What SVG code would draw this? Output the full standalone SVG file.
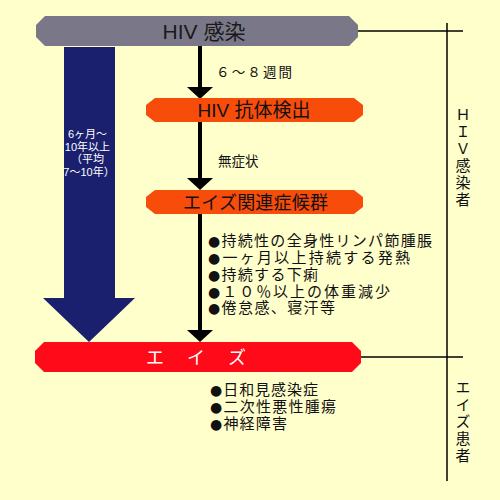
<svg xmlns="http://www.w3.org/2000/svg" width="500" height="500" viewBox="0 0 500 500">
<defs>
<style>
.jp{font-family:"Liberation Sans","Noto Sans CJK JP",sans-serif;}
.t{font-family:"Liberation Sans","Noto Sans CJK JP",sans-serif;fill:#111;}
.b{font-family:"DejaVu Sans",sans-serif;font-size:14px;}
.thin{stroke:#000;stroke-width:1.5;fill:none;}
.conn{stroke:#000;stroke-width:4;fill:none;marker-end:url(#ah);}
.orange{fill:#F84C0A;}
.vert{writing-mode:vertical-rl;text-orientation:upright;}
</style>
<marker id="ah" markerUnits="userSpaceOnUse" markerWidth="12" markerHeight="26" refX="0" refY="13" orient="auto" viewBox="0 0 12 26">
<path d="M0,0 L12,13 L0,26 z" fill="#000"/>
</marker>
</defs>
<rect width="500" height="500" fill="#FFFFCC"/>

<g id="duration-arrow">
<polygon points="64,47 115,47 115,298 135,298 89,342 43,298 64,298" fill="#1A206E"/>
<text class="t" font-size="11" text-anchor="middle" style="fill:#fff">
<tspan x="89" y="138">6ヶ月～</tspan>
<tspan x="89" y="151">10年以上</tspan>
<tspan x="89" y="163">（平均</tspan>
<tspan x="89" y="176">7～10年）</tspan>
</text>
</g>

<g id="connectors">
<line class="conn" x1="200" y1="46" x2="200" y2="87"/>
<line class="conn" x1="200" y1="122" x2="200" y2="178"/>
<line class="conn" x1="200" y1="214" x2="200" y2="330"/>
<polyline class="thin" points="358,31 463,31"/>
<polyline class="thin" points="361,357 463,357"/>
<polyline class="thin" points="447,23 447,481"/>
</g>

<g id="hiv-infection">
<polygon points="45,16 349,16 358,25 358,37 349,46 45,46 36,37 36,25" fill="#7A7888"/>
<text class="jp" x="204" y="39" font-size="21" text-anchor="middle" fill="#1a1a1a">HIV 感染</text>
</g>

<g id="label-weeks">
<text class="t" x="216" y="77" font-size="13.5" textLength="76" lengthAdjust="spacing">６～８週間</text>
</g>

<g id="antibody">
<polygon class="orange" points="155,98 354,98 363,105 363,115 354,122 155,122 146,115 146,105"/>
<text class="jp" x="254" y="117" font-size="19" text-anchor="middle" fill="#111">HIV 抗体検出</text>
</g>

<g id="label-asymptomatic">
<text class="t" x="218" y="166" font-size="13.5">無症状</text>
</g>

<g id="arc">
<polygon class="orange" points="155,190 354,190 363,197 363,207 354,214 155,214 146,207 146,197"/>
<text class="t" x="183" y="209" font-size="18" textLength="145" lengthAdjust="spacing" fill="#111">エイズ関連症候群</text>
</g>

<g id="arc-symptoms" class="t" font-size="15">
<text x="208" y="246" textLength="224" lengthAdjust="spacing"><tspan class="b">●</tspan>持続性の全身性リンパ節腫脹</text>
<text x="208" y="263" textLength="202" lengthAdjust="spacing"><tspan class="b">●</tspan>一ヶ月以上持続する発熱</text>
<text x="208" y="280" textLength="110" lengthAdjust="spacing"><tspan class="b">●</tspan>持続する下痢</text>
<text x="208" y="297" textLength="182" lengthAdjust="spacing"><tspan class="b">●</tspan>１０％以上の体重減少</text>
<text x="208" y="313" textLength="127" lengthAdjust="spacing"><tspan class="b">●</tspan>倦怠感、寝汗等</text>
</g>

<g id="aids">
<polygon points="44,342 352,342 361,351 361,363 352,372 44,372 35,363 35,351" fill="#FF0A18"/>
<text class="t" x="146" y="364" font-size="18" letter-spacing="2.5" style="fill:#fff">エ　イ　ズ</text>
</g>

<g id="aids-symptoms" class="t" font-size="15">
<text x="210" y="395" textLength="108" lengthAdjust="spacing"><tspan class="b">●</tspan>日和見感染症</text>
<text x="210" y="412" textLength="126" lengthAdjust="spacing"><tspan class="b">●</tspan>二次性悪性腫瘍</text>
<text x="210" y="429" textLength="77" lengthAdjust="spacing"><tspan class="b">●</tspan>神経障害</text>
</g>

<g id="label-hiv-carrier">
<text class="t vert" x="462" y="107" font-size="15" letter-spacing="2">ＨＩＶ感染者</text>
</g>

<g id="label-aids-patient">
<text class="t vert" x="462" y="380" font-size="15" letter-spacing="2">エイズ患者</text>
</g>
</svg>
